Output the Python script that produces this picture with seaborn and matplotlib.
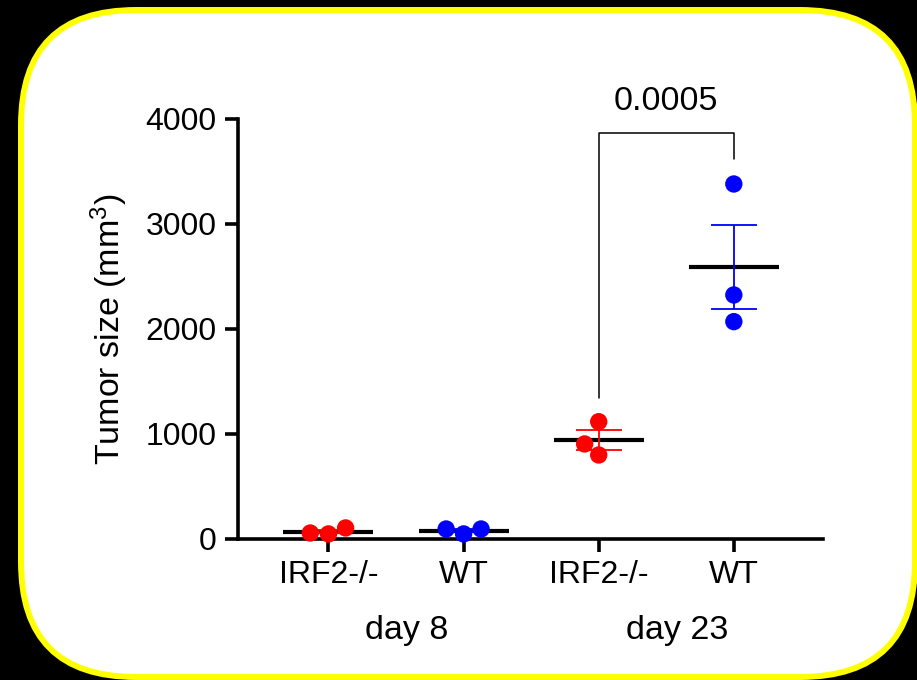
import numpy as np
import pandas as pd
import matplotlib
matplotlib.use("Agg")
import matplotlib.pyplot as plt
import matplotlib.transforms as mtransforms
from matplotlib.patches import FancyBboxPatch
import seaborn as sns

# Values
groups = ["IRF2-/- d8", "WT d8", "IRF2-/- d23", "WT d23"]
genotypes = ["IRF2-/-", "WT", "IRF2-/-", "WT"]
tick_labels = ["IRF2-/-", "WT", "IRF2-/-", "WT"]
day_labels = ["day 8", "day 23"]
irf2_d8 = [48, 105, 57]
wt_d8 = [48, 95, 95]
irf2_d23 = [1117, 905, 800]
wt_d23 = [3381, 2324, 2070]
p_value = "0.0005"

palette = {"IRF2-/-": "#FF0000", "WT": "#0000FF"}

# Long-form table
rows = []
for g, gt, vals in zip(groups, genotypes, [irf2_d8, wt_d8, irf2_d23, wt_d23]):
    for v in vals:
        rows.append({"group": g, "genotype": gt, "size": v})
df = pd.DataFrame(rows)
stats = df.groupby("group", sort=False)["size"].agg(["mean", "sem"]).reindex(groups)

sns.set_theme(style="ticks")
plt.rcParams["font.family"] = ["Liberation Sans", "DejaVu Sans"]
plt.rcParams["mathtext.fontset"] = "custom"
plt.rcParams["mathtext.rm"] = "Liberation Sans"
plt.rcParams["mathtext.default"] = "regular"
plt.rcParams["text.color"] = "black"
plt.rcParams["axes.labelcolor"] = "black"

fig = plt.figure(figsize=(9.17, 6.8), dpi=100, facecolor="black")

# rounded white panel with yellow border
box = FancyBboxPatch((0.21, 0.03), 8.94, 6.67,
                     boxstyle="round,pad=0,rounding_size=1.15",
                     transform=fig.dpi_scale_trans, facecolor="white",
                     edgecolor="#FFFF00", linewidth=4.3, zorder=-1)
fig.add_artist(box)

ax = fig.add_axes([0.2595, 0.2074, 0.638, 0.6176])
ax.set_facecolor("none")

sns.swarmplot(data=df, x="group", y="size", hue="genotype", order=groups,
              palette=palette, size=12.5, linewidth=0, legend=False,
              ax=ax, zorder=4)
for coll in ax.collections:
    coll.set_clip_on(False)

# mean line + SEM
xs = np.arange(len(groups))
ax.hlines(stats["mean"], xs - 0.333, xs + 0.333, color="black", lw=3, zorder=2)
for i, gt in enumerate(genotypes):
    ax.errorbar(i, stats["mean"].iloc[i], yerr=stats["sem"].iloc[i],
                color=palette[gt], capsize=16.5, elinewidth=1.3,
                capthick=1.3, zorder=3)

ax.set_xlim(-0.67, 3.66)
ax.set_ylim(0, 4000)
ax.set_yticks(range(0, 4001, 1000))
ax.set_xticks(xs)
ax.set_xticklabels(tick_labels)
ax.set_xlabel("")
ax.set_ylabel("Tumor size (mm$^3$)", fontsize=24.5, color="black")
ax.yaxis.set_label_coords(-0.185, 0.5)

for side in ["top", "right"]:
    ax.spines[side].set_visible(False)
for side in ["left", "bottom"]:
    ax.spines[side].set_linewidth(2.6)
    ax.spines[side].set_color("black")
ax.tick_params(length=9.5, width=2.6, labelsize=23, pad=6,
               color="black", labelcolor="black")

# day group labels
trans = mtransforms.blended_transform_factory(ax.transData, ax.transAxes)
ax.text(0.58, -0.219, day_labels[0], ha="center", va="center",
        fontsize=24.5, color="black", transform=trans)
ax.text(2.58, -0.219, day_labels[1], ha="center", va="center",
        fontsize=24.5, color="black", transform=trans)

# significance bracket between day 23 groups
left_y = max(irf2_d23) + 225
right_y = max(wt_d23) + 240
top_y = 3867
ax.plot([2, 2, 3, 3], [left_y, top_y, top_y, right_y], color="black",
        lw=1.1, clip_on=False, zorder=3)
ax.text(2.5, 4015, p_value, ha="center", va="bottom", fontsize=24.5,
        color="black")

fig.savefig("out.png", dpi=100, facecolor="black")
